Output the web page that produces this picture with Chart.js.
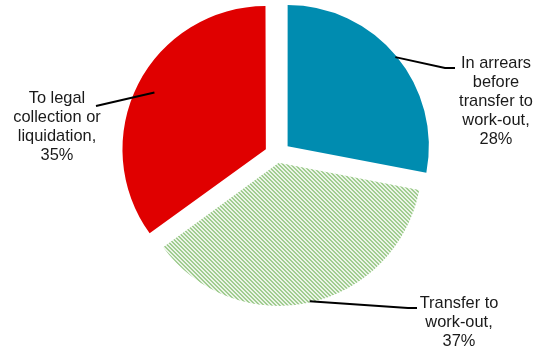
<!DOCTYPE html>
<html>
<head>
<meta charset="utf-8">
<script src="https://cdn.jsdelivr.net/npm/chart.js@4"></script>
<style>
  html, body { margin: 0; padding: 0; background: #fff; }
  #wrap { width: 537px; height: 354px; }
</style>
</head>
<body>
<div id="wrap"><canvas id="pieChart" width="537" height="354"></canvas></div>
<script>
// Data
const categories = ['In arrears before transfer to work-out', 'Transfer to work-out', 'To legal collection or liquidation'];
const shares = [28, 37, 35];
const labelLines = [
    ['In arrears', 'before', 'transfer to', 'work-out,', '28%'],
    ['Transfer to', 'work-out,', '37%'],
    ['To legal', 'collection or', 'liquidation,', '35%']
];

// hatch pattern for the middle slice
function makeHatch() {
    const c = document.createElement('canvas');
    c.width = 4;
    c.height = 4;
    const g = c.getContext('2d');
    g.fillStyle = '#ffffff';
    g.fillRect(0, 0, 4, 4);
    g.fillStyle = '#8ec37a';
    for (let y = 0; y < 4; y++) {
        for (let x = 0; x < 4; x++) {
            const m = ((x - y) % 4 + 4) % 4;
            if (m === 0 || m === 1) g.fillRect(x, y, 1, 1);
        }
    }
    return g.createPattern(c, 'repeat');
}

// label layout: leader line elbow/end and text anchor
const labelLayout = [
    { elbow: [445, 68], end: [455, 68], tx: 496, ty: 63 },
    { elbow: [408, 308], end: [417, 308], tx: 459, ty: 303 },
    { elbow: [96, 106], end: [96, 106], tx: 57, ty: 98 }
];

const leaderLabels = {
    id: 'leaderLabels',
    afterDatasetsDraw(chart) {
        const ctx = chart.ctx;
        const arcs = chart.getDatasetMeta(0).data;
        ctx.save();
        arcs.forEach((arc, i) => {
            const offset = (arc.options.offset || 0) / 4;
            const circ = arc.endAngle - arc.startAngle;
            const fix = 1 - Math.sin(Math.min(Math.PI, circ));
            const half = (arc.startAngle + arc.endAngle) / 2;
            const shift = offset * (1 + fix);
            const cx = arc.x + Math.cos(half) * shift;
            const cy = arc.y + Math.sin(half) * shift;
            const r = arc.outerRadius * (i === 2 ? 0.87 : 0.99);
            const sx = cx + Math.cos(half) * r;
            const sy = cy + Math.sin(half) * r;
            const lay = labelLayout[i];

            ctx.strokeStyle = '#000';
            ctx.lineWidth = 2;
            ctx.beginPath();
            ctx.moveTo(sx, sy);
            ctx.lineTo(lay.elbow[0], lay.elbow[1]);
            ctx.lineTo(lay.end[0], lay.end[1]);
            ctx.stroke();

            ctx.fillStyle = '#1a1a1a';
            ctx.font = '16.4px "Liberation Sans", Arial, sans-serif';
            ctx.textAlign = 'center';
            ctx.textBaseline = 'middle';
            labelLines[i].forEach((line, k) => {
                ctx.fillText(line, lay.tx, lay.ty + k * 19);
            });
        });
        ctx.restore();
    }
};

const ctx = document.getElementById('pieChart').getContext('2d');
const pieChart = new Chart(ctx, {
    type: 'pie',
    data: {
        labels: categories,
        datasets: [{
            data: shares,
            backgroundColor: ['#008cb0', makeHatch(), '#e00000'],
            borderWidth: 0,
            offset: [55, 32, 50]
        }]
    },
    options: {
        responsive: false,
        animation: false,
        radius: 141,
        layout: { padding: { left: 17, right: 0, top: 0, bottom: 44 } },
        plugins: {
            legend: { display: false },
            tooltip: { enabled: false }
        }
    },
    plugins: [leaderLabels]
});
</script>
</body>
</html>
